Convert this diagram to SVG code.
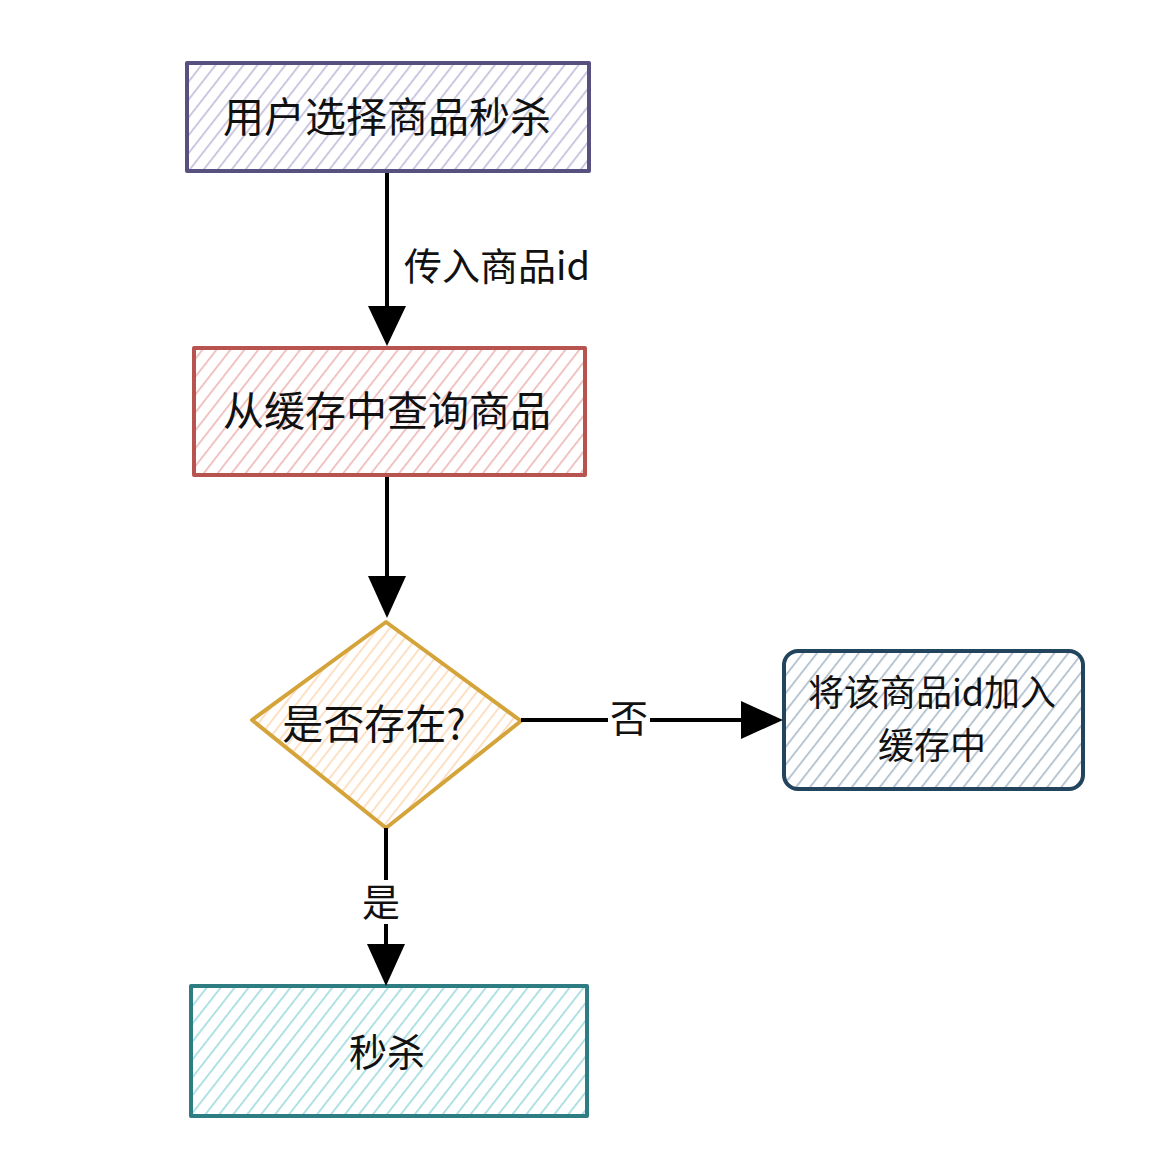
<svg xmlns="http://www.w3.org/2000/svg" width="1162" height="1156" viewBox="0 0 1162 1156">
<defs>
<pattern id="hp" width="11" height="11" patternUnits="userSpaceOnUse" patternTransform="rotate(38)"><line x1="0" y1="0" x2="0" y2="11" stroke="#c4c1dc" stroke-width="3.5"/></pattern>
<pattern id="hr" width="11" height="11" patternUnits="userSpaceOnUse" patternTransform="rotate(38)"><line x1="0" y1="0" x2="0" y2="11" stroke="#eebcba" stroke-width="3.5"/></pattern>
<pattern id="hy" width="9" height="9" patternUnits="userSpaceOnUse" patternTransform="rotate(38)"><line x1="0" y1="0" x2="0" y2="9" stroke="#fddcbc" stroke-width="3.5"/></pattern>
<pattern id="hb" width="11" height="11" patternUnits="userSpaceOnUse" patternTransform="rotate(38)"><line x1="0" y1="0" x2="0" y2="11" stroke="#b0bfcc" stroke-width="3.5"/></pattern>
<pattern id="hc" width="11" height="11" patternUnits="userSpaceOnUse" patternTransform="rotate(38)"><line x1="0" y1="0" x2="0" y2="11" stroke="#a6dde1" stroke-width="3.5"/></pattern>
</defs>
<style>
text{font-family:"Noto Sans CJK SC","Liberation Sans",sans-serif;fill:#111;text-anchor:middle}
.t{font-size:41px}
.l{font-size:38px}
.m{font-size:36px}
.n{stroke-width:4;stroke-linejoin:round}
.c{stroke:#000;stroke-width:4;fill:none}
.h{fill:#000}
</style>
<rect width="1162" height="1156" fill="#fff"/>
<g id="n1">
<rect class="n" x="187" y="63" width="402" height="108" fill="url(#hp)" stroke="#56517e"/>
<text class="t" x="387" y="132">用户选择商品秒杀</text>
</g>
<g id="n2">
<rect class="n" x="194" y="348" width="391" height="127" fill="url(#hr)" stroke="#b85450"/>
<text class="t" x="387" y="426">从缓存中查询商品</text>
</g>
<g id="n3">
<path class="n" d="M386,622 L521,721 L386,828 L252,720 Z" fill="url(#hy)" stroke="#d4a43a"/>
<text class="t" x="374" y="739">是否存在?</text>
</g>
<g id="n4">
<rect class="n" x="784" y="651" width="299" height="138" rx="14" fill="url(#hb)" stroke="#23445d"/>
<text class="m" x="932" y="706">将该商品id加入</text>
<text class="m" x="932" y="759">缓存中</text>
</g>
<g id="n5">
<rect class="n" x="191" y="986" width="396" height="130" fill="url(#hc)" stroke="#2e7d83"/>
<text class="l" x="387" y="1066">秒杀</text>
</g>
<g id="connectors">
<line class="c" x1="387" y1="173" x2="387" y2="310"/>
<path class="h" d="M368,306 L406,306 L387,346 Z"/>
<text class="l" x="497" y="280">传入商品id</text>
<line class="c" x1="387" y1="477" x2="387" y2="580"/>
<path class="h" d="M368,576 L406,576 L387,618 Z"/>
<line class="c" x1="521" y1="720" x2="745" y2="720"/>
<path class="h" d="M741,701 L741,739 L783,720 Z"/>
<rect x="608" y="698" width="42" height="42" fill="#fff"/>
<text class="l" x="629" y="732">否</text>
<line class="c" x1="386" y1="828" x2="386" y2="948"/>
<path class="h" d="M367,944 L405,944 L386,986 Z"/>
<rect x="360" y="880" width="44" height="44" fill="#fff"/>
<text class="l" x="381" y="916">是</text>
</g>
</svg>
